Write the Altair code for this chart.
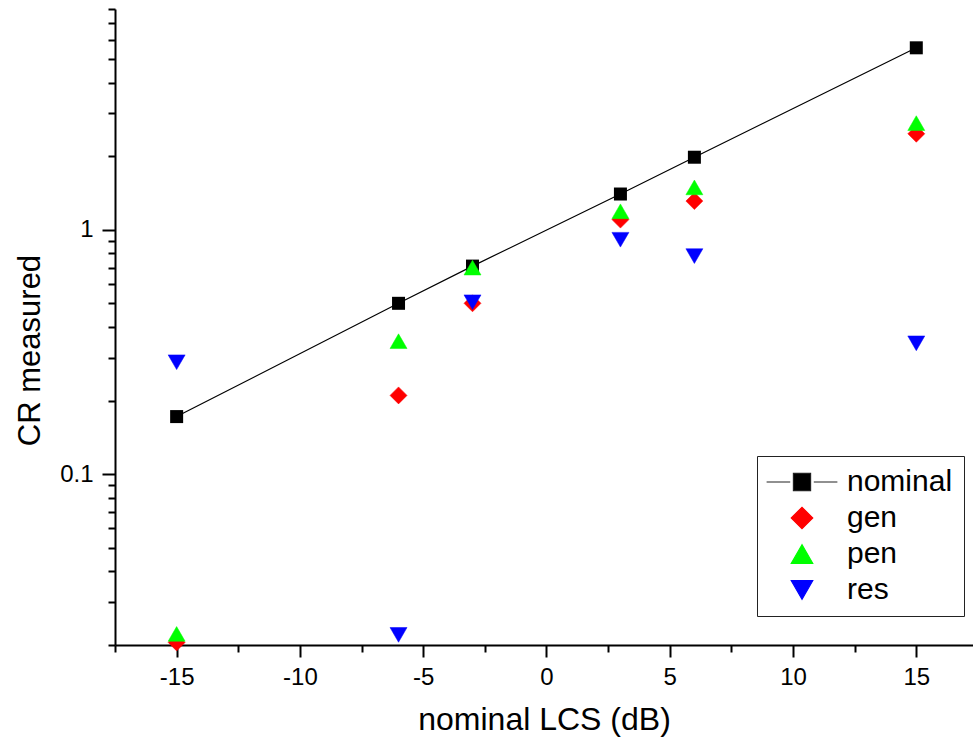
import altair as alt
import pandas as pd

# nominal LCS (dB)
lcs = [-15, -6, -3, 3, 6, 15]
nominal = [0.172, 0.50, 0.71, 1.40, 1.98, 5.55]
gen = [0.0205, 0.21, 0.50, 1.10, 1.31, 2.47]
pen = [0.0222, 0.35, 0.70, 1.19, 1.49, 2.73]
res = [0.287, 0.022, 0.505, 0.91, 0.78, 0.343]

series_names = ["nominal", "gen", "pen", "res"]
series_colors = ["#000000", "#ff0000", "#00ff00", "#0000ff"]
stroke_colors = ["#222222", "#ff0000", "#00ff00", "#0000ff"]
nominal_legend_path = "M-3.3,0H-1.1M1.1,0H3.3M-0.8,-0.8H0.8V0.8H-0.8Z"
series_shapes = [nominal_legend_path, "diamond", "triangle-up", "triangle-down"]

x_ticks = [-17.5, -15, -12.5, -10, -7.5, -5, -2.5, 0, 2.5, 5, 7.5, 10, 12.5, 15]
y_ticks = [0.02, 0.03, 0.04, 0.05, 0.06, 0.07, 0.08, 0.09,
           0.1, 0.2, 0.3, 0.4, 0.5, 0.6, 0.7, 0.8, 0.9,
           1, 2, 3, 4, 5, 6, 7, 8]

rows = []
for i, (name, vals) in enumerate(zip(series_names, [nominal, gen, pen, res])):
    for xv, yv in zip(lcs, vals):
        rows.append({"x": xv, "y": yv, "series": name, "ord": i})
df = pd.DataFrame(rows)

FONT = "Liberation Sans"

xenc = alt.X(
    "x:Q",
    scale=alt.Scale(domain=[-17.5, 17.3], nice=False, zero=False),
    axis=alt.Axis(
        title="nominal LCS (dB)",
        values=x_ticks,
        labelExpr="datum.value % 5 === 0 ? '' + datum.value : ''",
        tickSize={"condition": {"test": "datum.value % 5 === 0", "value": 12}, "value": 7},
        labelPadding=8,
        titlePadding=15,
        titleFontSize=32,
        grid=False,
    ),
)
yenc = alt.Y(
    "y:Q",
    scale=alt.Scale(type="log", domain=[0.02, 8], nice=False),
    axis=alt.Axis(
        title="CR measured",
        values=y_ticks,
        labelExpr="(datum.value === 0.1 || datum.value === 1) ? '' + datum.value : ''",
        tickSize={"condition": {"test": "datum.value === 0.1 || datum.value === 1", "value": 13}, "value": 7},
        labelPadding=9,
        titleX=-85,
        titleY=341,
        titleBaseline="middle",
        titleFontSize=31,
        grid=False,
    ),
)

base = alt.Chart(df)

line = base.transform_filter(alt.datum.series == "nominal").mark_line(
    color="black", strokeWidth=1.2
).encode(x=xenc, y=yenc)

nominal_pts = base.transform_filter(alt.datum.series == "nominal").mark_point(
    filled=True, opacity=1, shape="square", size=169, color="black", strokeWidth=0
).encode(x=xenc, y=yenc)

legend = alt.Legend(
    title=None,
    orient="none",
    legendX=642,
    legendY=447,
    padding=11,
    strokeColor="#222222",
    fillColor="white",
    symbolOffset=19,
    labelOffset=30,
    labelFontSize=30,
    labelFont=FONT,
    labelColor="black",
    rowPadding=6,
    symbolSize=460,
    symbolStrokeWidth=1.2,
)

others = base.transform_filter(alt.datum.series != "nominal").mark_point(
    filled=True, opacity=1, size=289, strokeWidth=0.5
).encode(
    x=xenc,
    y=yenc,
    color=alt.Color("series:N", scale=alt.Scale(domain=series_names, range=series_colors), legend=legend),
    stroke=alt.Stroke("series:N", scale=alt.Scale(domain=series_names, range=stroke_colors), legend=legend),
    shape=alt.Shape("series:N", scale=alt.Scale(domain=series_names, range=series_shapes), legend=legend),
    order=alt.Order("ord:Q"),
)

chart = alt.layer(line, nominal_pts, others).properties(
    width=858,
    height=636,
    autosize=alt.AutoSizeParams(type="none"),
    padding={"left": 115, "top": 9, "right": 0, "bottom": 104},
    background="white",
).configure_view(stroke=None).configure_axis(
    domainColor="black",
    domainWidth=2,
    tickColor="black",
    tickWidth=2,
    labelFont=FONT,
    labelFontSize=24,
    labelColor="black",
    titleFont=FONT,
    titleFontWeight="normal",
    titleColor="black",
)

chart.save("out.html", embed_options={"renderer": "svg", "actions": False})
